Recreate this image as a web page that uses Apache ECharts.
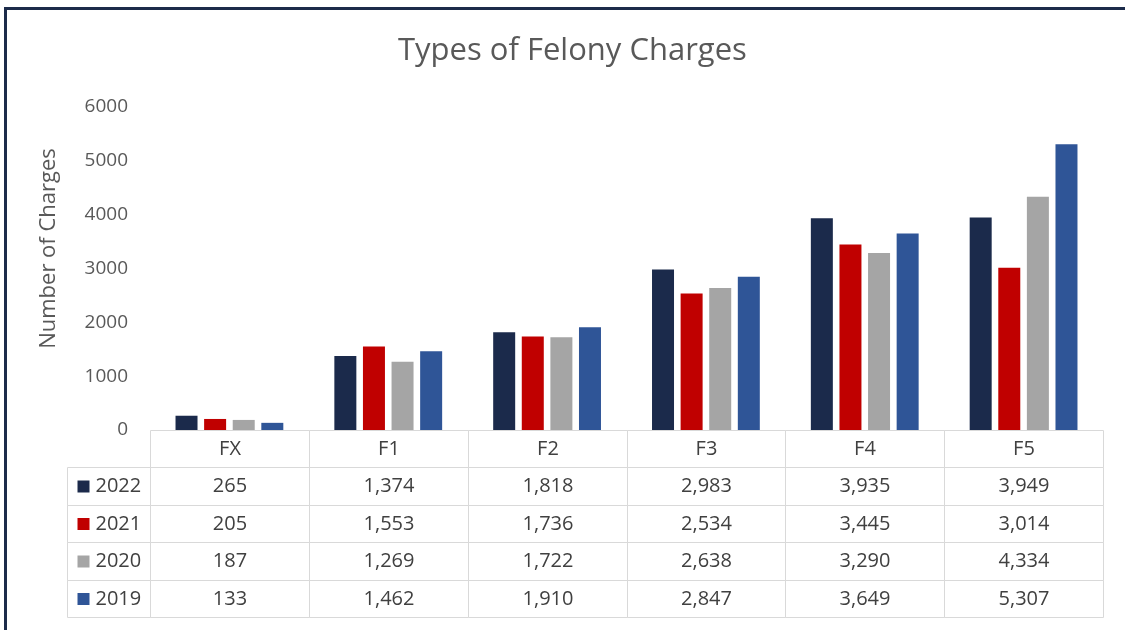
<!DOCTYPE html>
<html>
<head>
<meta charset="utf-8">
<title>Types of Felony Charges</title>
<script src="https://cdn.jsdelivr.net/npm/echarts@6/dist/echarts.min.js"></script>
<style>
  html, body { margin: 0; padding: 0; background: #fff; }
  #chart { width: 1125px; height: 630px; }
</style>
</head>
<body>
<div id="chart"></div>
<script>
// categories and yearly counts (same values as the data table)
var categories = ['FX', 'F1', 'F2', 'F3', 'F4', 'F5'];
var years = ['2022', '2021', '2020', '2019'];
var v2022 = [265, 1374, 1818, 2983, 3935, 3949];
var v2021 = [205, 1553, 1736, 2534, 3445, 3014];
var v2020 = [187, 1269, 1722, 2638, 3290, 4334];
var v2019 = [133, 1462, 1910, 2847, 3649, 5307];
var yMax = 6000;
var yStep = 1000;

var values = [v2022, v2021, v2020, v2019];
var colors = ['#1b2a4b', '#c00000', '#a5a5a5', '#2f5597'];
var textColor = '#595959';
var cellColor = '#404040';
var lineColor = '#d9d9d9';
var font = 'Open Sans';

function fmt(n) {
  return n.toLocaleString('en-US');
}

// table cells; col -1 is the legend column, row 0 the header
var cells = [];
for (var c = 0; c < categories.length; c++) {
  cells.push({ col: c, row: 0, text: categories[c] });
}
for (var r = 0; r < years.length; r++) {
  cells.push({ col: -1, row: r + 1, text: years[r], series: r });
  for (var c = 0; c < categories.length; c++) {
    cells.push({ col: c, row: r + 1, text: fmt(values[r][c]) });
  }
}
var legendStart = -83 / 158.8;

var series = [];
for (var i = 0; i < years.length; i++) {
  series.push({
    name: years[i],
    type: 'bar',
    xAxisIndex: 0,
    yAxisIndex: 0,
    barWidth: 22,
    barGap: '30%',
    itemStyle: { color: colors[i] },
    data: values[i]
  });
}

series.push({
  type: 'custom',
  xAxisIndex: 1,
  yAxisIndex: 1,
  silent: true,
  data: cells.map(function (d) { return [d.col, d.row]; }),
  renderItem: function (params, api) {
    var d = cells[params.dataIndex];
    var x0 = d.col < 0 ? legendStart : d.col;
    var x1 = d.col < 0 ? 0 : d.col + 1;
    var p0 = api.coord([x0, d.row]);
    var p1 = api.coord([x1, d.row + 1]);
    var left = Math.round(p0[0]) + 0.5, top = Math.round(p0[1]) + 0.5;
    var right = Math.round(p1[0]) + 0.5, bottom = Math.round(p1[1]) + 0.5;
    var cy = (top + bottom) / 2;
    var children = [{
      type: 'rect',
      shape: { x: left, y: top, width: right - left, height: bottom - top },
      style: { fill: 'none', stroke: lineColor, lineWidth: 1 }
    }];
    if (d.col < 0) {
      children.push({
        type: 'rect',
        shape: { x: left + 10, y: cy - 6, width: 12, height: 12 },
        style: { fill: colors[d.series] }
      });
      children.push({
        type: 'text',
        style: {
          x: left + 28, y: cy, text: d.text, fill: cellColor,
          font: '20px "' + font + '"', textAlign: 'left', textVerticalAlign: 'middle'
        }
      });
    } else {
      children.push({
        type: 'text',
        style: {
          x: (left + right) / 2, y: cy, text: d.text, fill: cellColor,
          font: '20px "' + font + '"', textAlign: 'center', textVerticalAlign: 'middle'
        }
      });
    }
    return { type: 'group', children: children };
  }
});

var chart = echarts.init(document.getElementById('chart'));
chart.setOption({
  animation: false,
  textStyle: { fontFamily: font },
  title: {
    text: 'Types of Felony Charges',
    left: 393,
    top: 31,
    textStyle: { fontFamily: font, fontSize: 31, fontWeight: 'normal', color: textColor }
  },
  graphic: [
    { type: 'rect', shape: { x: 4, y: 7, width: 1125, height: 3 }, style: { fill: '#1c2b4a' } },
    { type: 'rect', shape: { x: 4, y: 7, width: 3, height: 630 }, style: { fill: '#1c2b4a' } }
  ],
  grid: [
    { left: 150, right: 22, top: 107, bottom: 200 },
    { left: 67, right: 22, top: 430, bottom: 13 }
  ],
  xAxis: [
    {
      type: 'category',
      gridIndex: 0,
      data: categories,
      axisLine: { show: false },
      axisTick: { show: false },
      axisLabel: { show: false },
      splitLine: { show: false }
    },
    {
      type: 'value',
      gridIndex: 1,
      min: legendStart,
      max: categories.length,
      show: false
    }
  ],
  yAxis: [
    {
      type: 'value',
      gridIndex: 0,
      min: 0,
      max: yMax,
      interval: yStep,
      name: 'Number of Charges',
      nameLocation: 'middle',
      nameGap: 90,
      nameTextStyle: { fontFamily: font, fontSize: 22, color: textColor, padding: [0, 0, 0, 40] },
      axisLine: { show: false },
      axisTick: { show: false },
      splitLine: { show: false },
      axisLabel: {
        fontFamily: font, fontSize: 19, color: textColor, margin: 22,
        formatter: function (v) { return String(v); }
      }
    },
    {
      type: 'value',
      gridIndex: 1,
      min: 0,
      max: years.length + 1,
      inverse: true,
      show: false
    }
  ],
  series: series
});
</script>
</body>
</html>
